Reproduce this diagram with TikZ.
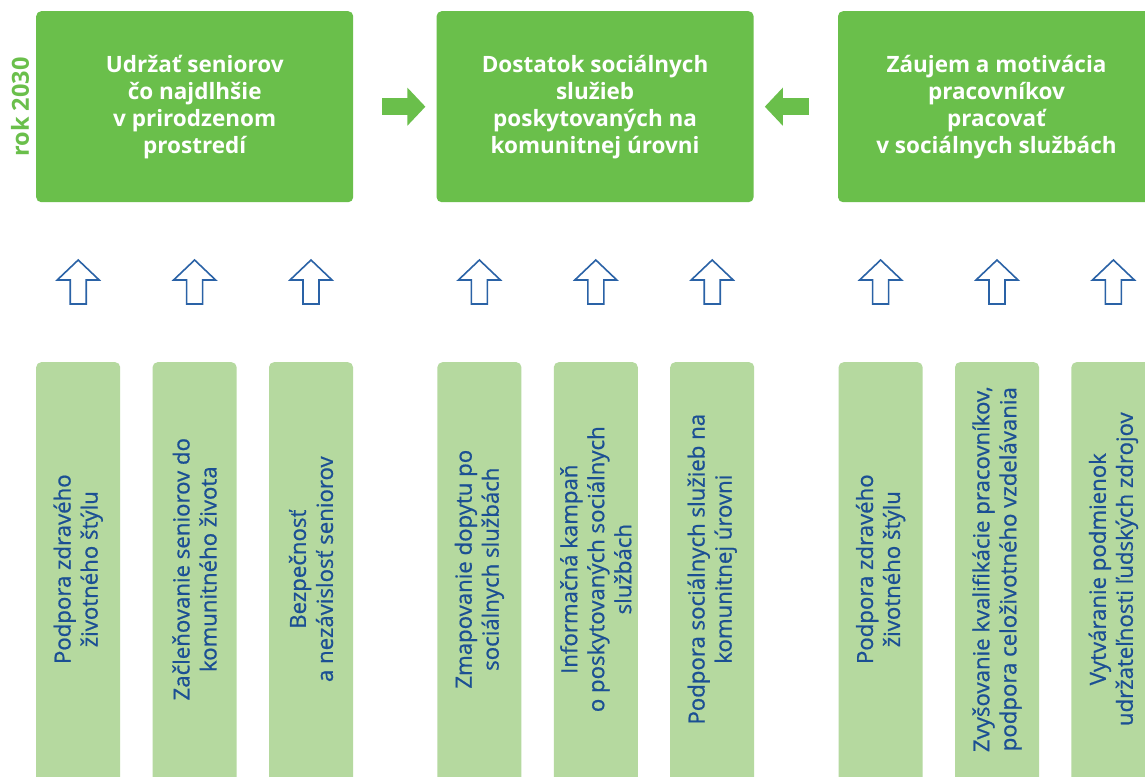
\documentclass[tikz,border=0pt]{standalone}
\usepackage{fontspec}
\setmainfont{Open Sans}
\newfontfamily\measurefont{Open Sans}[FakeBold=0.8]
\usetikzlibrary{positioning,arrows.meta}
\definecolor{boxgreen}{HTML}{6ABF4B}
\definecolor{palegreen}{HTML}{B5D99F}
\definecolor{textblue}{HTML}{1B4F93}
\definecolor{arrowblue}{HTML}{2A62A6}
\tikzset{
goal/.style={fill=boxgreen, rounded corners=5pt, minimum width=317pt, minimum height=191pt,
  inner sep=0pt, align=center, text=white, font=\fontsize{22.5}{27}\selectfont\bfseries},
measure/.style={fill=palegreen, rounded corners=5pt, minimum width=84pt, minimum height=424pt, inner sep=0pt},
measuretext/.style={rotate=90, text=textblue, align=center, inner sep=0pt, font=\measurefont\fontsize{22.2}{27}\selectfont},
year/.style={rotate=90, text=boxgreen, inner sep=0pt, font=\fontsize{23.5}{24}\selectfont\bfseries},
push/.style={boxgreen, line width=17pt, -{Triangle[length=18pt,width=37pt]}},
uparrow/.pic={\draw[arrowblue, line width=1.6pt, fill=white, line join=miter]
  (0,0) -- (21,20) -- (8,20) -- (8,44) -- (-8,44) -- (-8,20) -- (-21,20) -- cycle;},
}
\begin{document}
\begin{tikzpicture}[x=1pt,y=-1pt]
        \clip (0,0) rectangle (1145,776);
        \fill[white] (0,0) rectangle (1145,776);

        % goals for 2030
        \node[year] (year) at (20,107) {rok 2030};
        \node[goal,anchor=north west] (g1) at (36,11) {Udržať seniorov\\čo najdlhšie\\v prirodzenom\\prostredí};
        \node[goal,right=83pt of g1] (g2) {Dostatok sociálnych\\služieb\\poskytovaných na\\komunitnej úrovni};
        \node[goal,right=84pt of g2] (g3) {Záujem a motivácia\\pracovníkov\\pracovať\\v sociálnych službách};

        \draw[push, shorten <=29pt, shorten >=11pt] (g1) -- (g2);
        \draw[push, shorten <=29pt, shorten >=11pt] (g3) -- (g2);

        % measures
        \node[measure,anchor=north west] (m1) at (36,362) {};
        \node[measure,right=32pt of m1] (m2) {};
        \node[measure,right=32pt of m2] (m3) {};
        \node[measure,right=84pt of m3] (m4) {};
        \node[measure,right=32pt of m4] (m5) {};
        \node[measure,right=32pt of m5] (m6) {};
        \node[measure,right=84pt of m6] (m7) {};
        \node[measure,right=32pt of m7] (m8) {};
        \node[measure,right=32pt of m8] (m9) {};

        \node[measuretext] (t1) at ([yshift=5pt]m1.center) {Podpora zdravého\\životného štýlu};
        \node[measuretext] (t2) at ([yshift=5pt]m2.center) {Začleňovanie seniorov do\\komunitného života};
        \node[measuretext] (t3) at ([yshift=5pt]m3.center) {Bezpečnosť\\a nezávislosť seniorov};
        \node[measuretext] (t4) at ([yshift=5pt]m4.center) {Zmapovanie dopytu po\\sociálnych službách};
        \node[measuretext] (t5) at ([yshift=5pt]m5.center) {Informačná kampaň\\o poskytovaných sociálnych\\službách};
        \node[measuretext] (t6) at ([yshift=5pt]m6.center) {Podpora sociálnych služieb na\\komunitnej úrovni};
        \node[measuretext] (t7) at ([yshift=5pt]m7.center) {Podpora zdravého\\životného štýlu};
        \node[measuretext] (t8) at ([yshift=5pt]m8.center) {Zvyšovanie kvalifikácie pracovníkov,\\podpora celoživotného vzdelávania};
        \node[measuretext] (t9) at ([yshift=5pt]m9.center) {Vytváranie podmienok\\udržateľnosti ľudských zdrojov};

        % hollow arrows
        \coordinate (arrowrow) at (0,260);
        \pic at (m1 |- arrowrow) {uparrow};
        \pic at (m2 |- arrowrow) {uparrow};
        \pic at (m3 |- arrowrow) {uparrow};
        \pic at (m4 |- arrowrow) {uparrow};
        \pic at (m5 |- arrowrow) {uparrow};
        \pic at (m6 |- arrowrow) {uparrow};
        \pic at (m7 |- arrowrow) {uparrow};
        \pic at (m8 |- arrowrow) {uparrow};
        \pic at (m9 |- arrowrow) {uparrow};
    \end{tikzpicture}
\end{document}
